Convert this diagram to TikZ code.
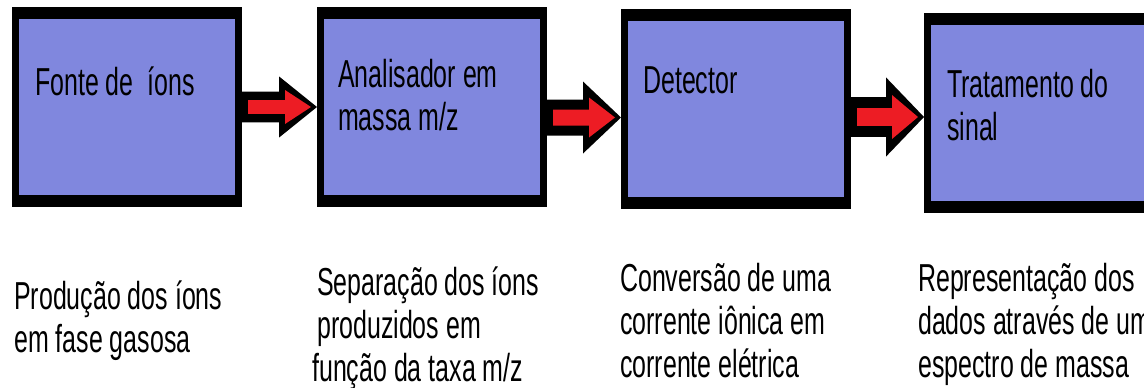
\documentclass[tikz,border=0pt]{standalone}
\usepackage{fontspec}
\newfontfamily\rotulo[FakeStretch=0.64]{Liberation Sans}
\usetikzlibrary{calc, positioning}
\definecolor{caixaazul}{RGB}{128,135,222}
\definecolor{setavermelha}{RGB}{237,28,36}

% seta de bloco: de, para, deslocamento vertical, escala
\newcommand{\seta}[4]{%
    \coordinate (cauda) at ([yshift=#3]#1.east);
    \coordinate (ponta) at (cauda -| #2.west);
    \fill[black] ($(cauda)+(0,-#4*18)$) -- ($(ponta)+(-38,-#4*18)$) -- ($(ponta)+(-38,-#4*36)$) -- (ponta)
        -- ($(ponta)+(-38,#4*36)$) -- ($(ponta)+(-38,#4*18)$) -- ($(cauda)+(0,#4*18)$) -- cycle;
    \fill[setavermelha] ($(cauda)+(6,-#4*8)$) -- ($(ponta)+(-32,-#4*8)$) -- ($(ponta)+(-32,-#4*20)$) -- ($(ponta)+(-6,0)$)
        -- ($(ponta)+(-32,#4*20)$) -- ($(ponta)+(-32,#4*8)$) -- ($(cauda)+(6,#4*8)$) -- cycle;
}

\begin{document}
\begin{tikzpicture}[x=1pt, y=-1pt,
    etapa/.style={fill=black, minimum width=230pt, minimum height=200pt, inner sep=0pt, outer sep=0pt, anchor=north west,
        path picture={\fill[caixaazul] ([shift={(7pt,-12pt)}]path picture bounding box.north west)
            rectangle ([shift={(-7pt,12pt)}]path picture bounding box.south east);}},
    texto/.style={font=\rotulo\fontsize{39}{43}\selectfont, inner sep=0pt, align=left, anchor=base west}]
    \useasboundingbox (0,0) rectangle (1144,388);

    % Blocos do espectrometro
    \node[etapa] (fonte) at (12,7) {};
    \node[etapa] (analisador) at (317,7) {};
    \node[etapa] (detector) at (621,9) {};
    \node[etapa] (tratamento) at (924,13) {};

    % base = ultima linha do texto
    \node[texto] (tfonte) at ($(fonte.north west)+(23,88)$) {Fonte de\ \ íons};
    \node[texto] (tanalisador) at ($(analisador.north west)+(21,123)$) {Analisador em\\massa m/z};
    \node[texto] (tdetector) at ($(detector.north west)+(22,84)$) {Detector};
    \node[texto] (ttratamento) at ($(tratamento.north west)+(23,127)$) {Tratamento do\\sinal};

    % Setas
    \seta{fonte}{analisador}{0pt}{0.85}
    \seta{analisador}{detector}{-10.5pt}{1}
    \seta{detector}{tratamento}{-8pt}{1.1}

    % Descricoes
    \node[texto] (dfonte) at (14,352) {Produção dos íons\\em fase gasosa};
    \node[texto] (danalisador) at (312,381) {\hspace{5pt}Separação dos íons\\\hspace{5pt}produzidos em\\função da taxa m/z};
    \node[texto] (ddetector) at (620,377) {Conversão de uma\\corrente iônica em\\corrente elétrica};
    \node[texto] (dtratamento) at (918,377) {Representação dos\\dados através de um\\espectro de massa};
\end{tikzpicture}
\end{document}
